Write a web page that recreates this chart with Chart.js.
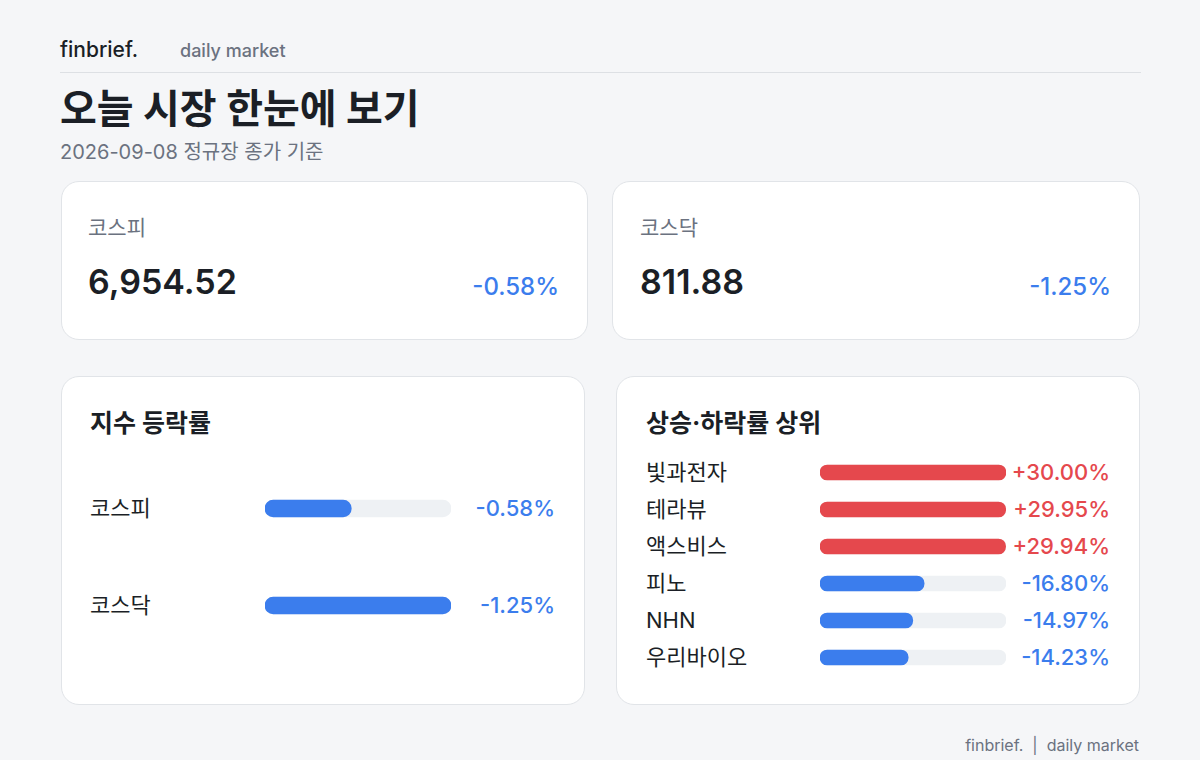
<!DOCTYPE html>
<html><head><meta charset="utf-8">
<script src="https://cdn.jsdelivr.net/npm/chart.js@4"></script>
<style>
body{margin:0;width:1200px;height:760px;background:#f5f6f8;font-family:Inter,"Noto Sans CJK KR","Noto Sans",sans-serif;color:#1b1f26;position:relative;overflow:hidden}
.a{position:absolute;white-space:nowrap}
.card{position:absolute;background:#fff;border:1px solid #e1e4e8;border-radius:18px;box-sizing:border-box}
.g{color:#6b7280}
.blue{color:#3b7ded}.red{color:#e5484d}
canvas{position:absolute}
</style></head><body>
<div class="a" style="left:60px;top:37px;font-size:21px;font-weight:500">finbrief.</div>
<div class="a g" style="left:180px;top:40px;font-size:18px;font-weight:500">daily market</div>
<div class="a" style="left:60px;top:72px;width:1081px;height:1px;background:#dde0e4"></div>
<div class="a" style="left:60px;top:77px;font-size:40px;font-weight:700">오늘 시장 한눈에 보기</div>
<div class="a g" style="left:60px;top:136px;font-size:20px">2026-09-08 정규장 종가 기준</div>

<div class="card" style="left:61px;top:181px;width:527px;height:159px"></div>
<div class="a g" style="left:88px;top:211px;font-size:21px">코스피</div>
<div class="a" style="left:88px;top:261px;font-size:34px;font-weight:600">6,954.52</div>
<div class="a blue" style="right:641px;top:272px;font-size:24px;font-weight:500">-0.58%</div>
<div class="card" style="left:612px;top:181px;width:528px;height:159px"></div>
<div class="a g" style="left:640px;top:211px;font-size:21px">코스닥</div>
<div class="a" style="left:640px;top:261px;font-size:34px;font-weight:600">811.88</div>
<div class="a blue" style="right:89px;top:272px;font-size:24px;font-weight:500">-1.25%</div>

<div class="card" style="left:61px;top:376px;width:524px;height:329px"></div>
<div class="a" style="left:90px;top:403px;font-size:25px;font-weight:700">지수 등락률</div>
<div class="card" style="left:616px;top:376px;width:524px;height:329px"></div>
<div class="a" style="left:646px;top:403px;font-size:25px;font-weight:700">상승·하락률 상위</div>
<div id="ll"></div><div id="rl"></div>
<canvas id="c1"></canvas><canvas id="c2"></canvas>
<div class="a g" style="right:61px;top:735px;font-size:16px">finbrief.&nbsp;&nbsp;|&nbsp;&nbsp;daily market</div>
<script>
const indexNames=["코스피","코스닥"];
const indexChanges=[-0.58,-1.25];
const moverNames=["빛과전자","테라뷰","액스비스","피노","NHN","우리바이오"];
const moverChanges=[30.00,29.95,29.94,-16.80,-14.97,-14.23];
const BLUE="#3b7ded",RED="#e5484d",TRACK="#eef1f4";
function fmt(v){return (v>0?"+":"")+v.toFixed(2)+"%";}
function labels(id,names,vals,lx,rx,y0,step,fs){
  let h="";names.forEach((n,i)=>{const y=y0+i*step;const latin=/^[A-Za-z0-9 ]+$/.test(n);
    h+=`<div class="a" style="left:${lx}px;top:${y-fs*0.8+(latin?5:0)}px;font-size:${fs}px">${n}</div>`;
    h+=`<div class="a ${vals[i]>0?'red':'blue'}" style="right:${1200-rx}px;top:${y-fs*0.8+5}px;font-size:${fs}px;font-weight:500">${fmt(vals[i])}</div>`;});
  document.getElementById(id).innerHTML=h;}
labels("ll",indexNames,indexChanges,90,555,508,97,22);
labels("rl",moverNames,moverChanges,646,1110,472,37,22);
function bars(id,names,vals,left,top,w,h,th){
  const c=document.getElementById(id);c.style.left=left+"px";c.style.top=top+"px";c.style.width=w+"px";c.style.height=h+"px";
  const mx=Math.max(...vals.map(Math.abs));
  new Chart(c,{type:"bar",data:{labels:names,datasets:[
    {data:vals.map(Math.abs),backgroundColor:vals.map(v=>v>0?RED:BLUE),order:1,grouped:false,barThickness:th,borderRadius:th/2,borderSkipped:false},
    {data:vals.map(()=>mx),backgroundColor:TRACK,order:2,grouped:false,barThickness:th,borderRadius:th/2,borderSkipped:false}]},
    options:{indexAxis:"y",responsive:false,animation:false,maintainAspectRatio:false,layout:{padding:0},
      plugins:{legend:{display:false},tooltip:{enabled:false}},
      scales:{x:{display:false,min:0,max:mx},y:{display:false}}}});}
bars("c1",indexNames,indexChanges,265,459.5,186,194,17);
bars("c2",moverNames,moverChanges,820,453.5,186,222,15);
</script></body></html>
